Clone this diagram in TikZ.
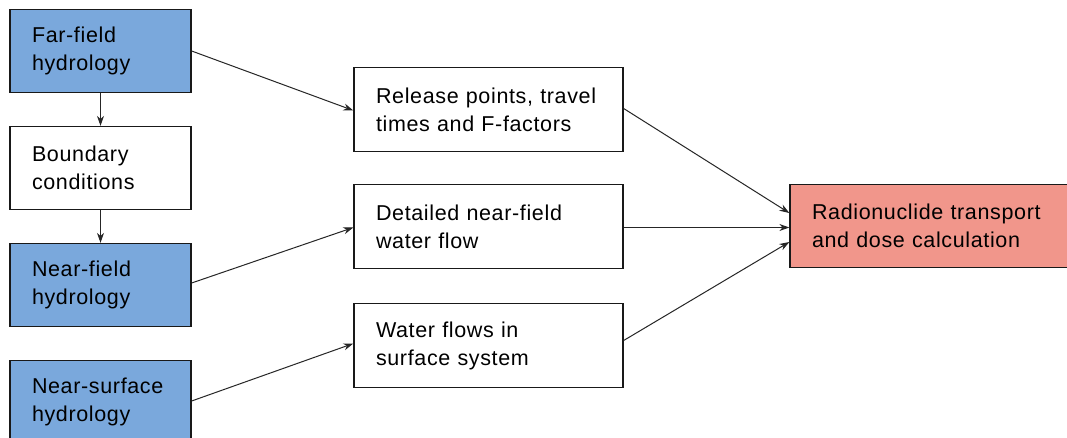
\documentclass[tikz,border=0pt]{standalone}
\usepackage{fontspec}
\setmainfont{Liberation Sans}[LetterSpace=3.0]
\usetikzlibrary{arrows.meta}
\definecolor{boxblue}{RGB}{122,168,220}
\definecolor{boxred}{RGB}{241,150,139}
\tikzset{
  box/.style={draw=black!90, line width=1.3pt, rectangle, align=left, inner xsep=22pt, inner ysep=0pt,
    font=\fontsize{21.5}{28}\selectfont, anchor=center},
  lbox/.style={box, minimum width=181pt, text width=137pt, minimum height=83pt},
  mbox/.style={box, minimum width=269pt, text width=225pt, minimum height=84pt},
  conn/.style={draw=black!85, line width=1pt, -{Stealth[length=10pt,width=7pt]}}
}
\begin{document}
\begin{tikzpicture}[x=1pt,y=-1pt]
\useasboundingbox (0,0) rectangle (1067,438);
\clip (0,0) rectangle (1067,438);
\fill[white] (0,0) rectangle (1067,438);
\node[lbox, fill=boxblue] (ff) at (100.5,51) {Far-field\\hydrology};
\node[lbox] (bc) at (100.5,168) {Boundary\\conditions};
\node[lbox, fill=boxblue] (nf) at (100.5,285) {Near-field\\hydrology};
\node[lbox, fill=boxblue] (ns) at (100.5,402) {Near-surface\\hydrology};
\node[mbox] (rel) at (488.5,109.5) {Release points, travel\\times and F-factors};
\node[mbox] (det) at (488.5,226.5) {Detailed near-field\\water flow};
\node[mbox] (wat) at (488.5,345.5) {Water flows in\\surface system};
\node[box, fill=boxred, minimum width=300pt, text width=256pt, minimum height=83pt] (rad) at (940,226) {Radionuclide transport\\and dose calculation};
\draw[conn] (ff) -- (bc);
\draw[conn] (bc) -- (nf);
\draw[conn] (ff.east) -- ([yshift=-1pt]rel.west);
\draw[conn] ([yshift=2pt]nf.east) -- ([yshift=-1pt]det.west);
\draw[conn] ([yshift=1pt]ns.east) -- ([yshift=2pt]wat.west);
\draw[conn] ([yshift=1pt]rel.east) -- ([yshift=13pt]rad.west);
\draw[conn] ([yshift=-1pt]det.east) -- ([yshift=-1.5pt]rad.west);
\draw[conn] ([yshift=5pt]wat.east) -- ([yshift=-16pt]rad.west);
\end{tikzpicture}
\end{document}
